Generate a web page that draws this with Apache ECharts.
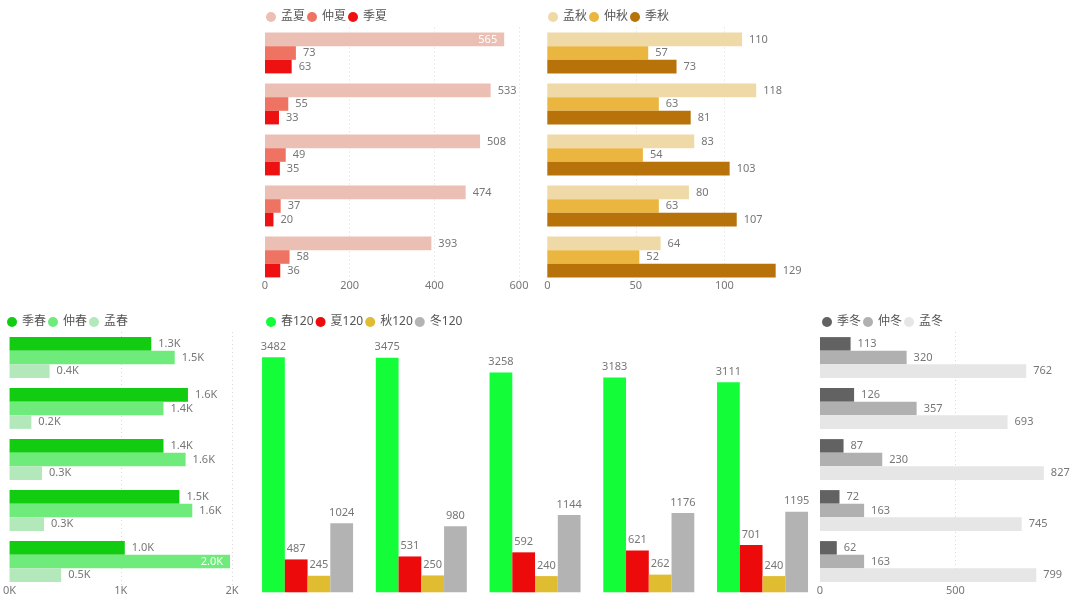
<!DOCTYPE html>
<html>
<head>
<meta charset="utf-8">
<title>四季</title>
<script src="https://cdn.jsdelivr.net/npm/echarts@6/dist/echarts.min.js"></script>
<style>
    html, body { margin: 0; padding: 0; background: #fff; }
    #chart { width: 1080px; height: 606px; }
</style>
</head>
<body>
<div id="chart"></div>
<script>
// 五组类别(图上不显示名称)
let categories = ['1', '2', '3', '4', '5'];

// 夏
let mengXia = [565, 533, 508, 474, 393];
let zhongXia = [73, 55, 49, 37, 58];
let jiXia = [63, 33, 35, 20, 36];

// 秋
let mengQiu = [110, 118, 83, 80, 64];
let zhongQiu = [57, 63, 54, 63, 52];
let jiQiu = [73, 81, 103, 107, 129];

// 春
let jiChun = [1274, 1604, 1384, 1527, 1036];
let zhongChun = [1485, 1384, 1583, 1643, 1982];
let mengChun = [360, 196, 292, 310, 464];

// 冬
let jiDong = [113, 126, 87, 72, 62];
let zhongDong = [320, 357, 230, 163, 163];
let mengDong = [762, 693, 827, 745, 799];

// 四季120
let chun120 = [3482, 3475, 3258, 3183, 3111];
let xia120 = [487, 531, 592, 621, 701];
let qiu120 = [245, 250, 240, 262, 240];
let dong120 = [1024, 980, 1144, 1176, 1195];

const FONT = '"Noto Sans", "Noto Sans CJK SC", sans-serif';
const LABEL_COLOR = '#777';
const LEGEND_COLOR = '#555';

let kFormat = function (v) {
    return (v / 1000).toFixed(1) + 'K';
};

// 横向条形图的四个面板
let panels = [{
    grid: {left: 265, top: 27.5, width: 254, height: 255},
    legend: {left: 261, top: 6},
    max: 600, interval: 200,
    names: ['孟夏', '仲夏', '季夏'],
    values: [mengXia, zhongXia, jiXia],
    colors: ['#ecbfb4', '#ee7363', '#ee1111']
}, {
    grid: {left: 547.3, top: 27.5, width: 256.7, height: 255},
    legend: {left: 543, top: 6},
    max: 145, interval: 50,
    names: ['孟秋', '仲秋', '季秋'],
    values: [mengQiu, zhongQiu, jiQiu],
    colors: ['#efd9a6', '#ebb63f', '#b8720a']
}, {
    grid: {left: 8, top: 332, width: 224, height: 255},
    legend: {left: 2, top: 311},
    max: 2000, interval: 1000,
    names: ['季春', '仲春', '孟春'],
    values: [jiChun, zhongChun, mengChun],
    colors: ['#12cc12', '#6feb7c', '#b3e8bb'],
    label: kFormat,
    axisLabel: function (v) { return v / 1000 + 'K'; }
}, {
    grid: {left: 820, top: 332, width: 243.6, height: 255},
    legend: {left: 817, top: 311},
    max: 900, interval: 500,
    names: ['季冬', '仲冬', '孟冬'],
    values: [jiDong, zhongDong, mengDong],
    colors: ['#626262', '#b0b0b0', '#e6e6e6']
}];

let option = {
    animation: false,
    textStyle: {fontFamily: FONT},
    grid: [],
    legend: [],
    xAxis: [],
    yAxis: [],
    series: []
};

panels.forEach(function (p, i) {
    // 最大值不是整刻度时不画它的标签和网格线
    let onTick = p.max % p.interval === 0;
    option.grid.push(p.grid);
    option.legend.push({
        left: p.legend.left, top: p.legend.top,
        icon: 'circle', itemWidth: 10, itemHeight: 10, itemGap: 2,
        textStyle: {color: LEGEND_COLOR, fontSize: 12, fontFamily: FONT},
        data: p.names
    });
    option.xAxis.push({
        type: 'value', gridIndex: i, min: 0, max: p.max, interval: p.interval,
        axisLine: {show: false}, axisTick: {show: false},
        axisLabel: {
            color: LABEL_COLOR, fontSize: 11, margin: -2, showMaxLabel: onTick,
            formatter: p.axisLabel || '{value}'
        },
        splitLine: {
            show: true, showMinLine: false, showMaxLine: onTick,
            lineStyle: {color: '#d8d8d8', type: [1, 3]}
        }
    });
    option.yAxis.push({
        type: 'category', gridIndex: i, inverse: true, data: categories,
        axisLine: {show: false}, axisTick: {show: false}, axisLabel: {show: false}
    });
    p.names.forEach(function (name, j) {
        option.series.push({
            name: name, type: 'bar', xAxisIndex: i, yAxisIndex: i,
            barGap: 0, barCategoryGap: '20%',
            itemStyle: {color: p.colors[j]},
            label: {
                show: true, position: 'right', distance: 7,
                color: LABEL_COLOR, fontSize: 11,
                formatter: function (d) {
                    return p.label ? p.label(d.value) : d.value;
                }
            },
            // 没有空间时数值放到条形内部
            data: p.values[j].map(function (v) {
                let room = (p.max - v) / p.max * p.grid.width;
                if (room < 18) {
                    return {value: v, label: {position: 'insideRight', color: '#fff'}};
                }
                return v;
            })
        });
    });
});

// 中间的四季120柱状图
let colNames = ['春120', '夏120', '秋120', '冬120'];
let colValues = [chun120, xia120, qiu120, dong120];
let colColors = ['#13fd38', '#ec0a0a', '#e0bc30', '#b3b3b3'];

option.grid.push({left: 250.7, top: 322.3, width: 568.7, height: 270});
option.legend.push({
    left: 261, top: 311,
    icon: 'circle', itemWidth: 10, itemHeight: 10, itemGap: 2,
    textStyle: {color: LEGEND_COLOR, fontSize: 12, fontFamily: FONT},
    data: colNames
});
option.xAxis.push({type: 'category', gridIndex: 4, data: categories, show: false});
option.yAxis.push({type: 'value', gridIndex: 4, min: 0, max: 4000, show: false});
colNames.forEach(function (name, j) {
    option.series.push({
        name: name, type: 'bar', xAxisIndex: 4, yAxisIndex: 4,
        barGap: 0, barCategoryGap: '20%',
        itemStyle: {color: colColors[j]},
        label: {show: true, position: 'top', distance: 5, color: LABEL_COLOR, fontSize: 11},
        data: colValues[j]
    });
});

let myChart = echarts.init(document.getElementById('chart'));
myChart.setOption(option);
</script>
</body>
</html>
